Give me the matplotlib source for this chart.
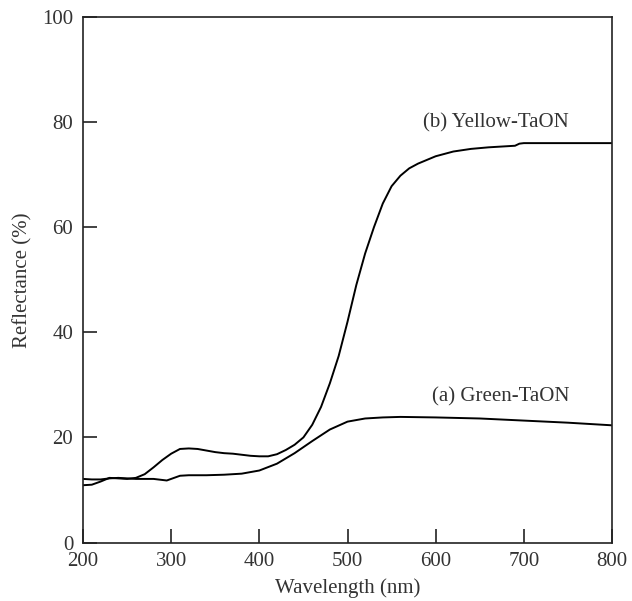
import matplotlib
matplotlib.use("Agg")
import matplotlib.pyplot as plt

plt.rcParams['font.family'] = ['Liberation Serif', 'DejaVu Serif']

# Yellow-TaON (b)
wl_b = [200, 210, 220, 230, 240, 250, 260, 270, 280, 290, 300, 310, 320, 330, 340,
        350, 360, 370, 380, 390, 400, 410, 420, 430, 440, 450, 460, 470, 480, 490,
        500, 510, 520, 530, 540, 550, 560, 570, 580, 590, 600, 620, 640, 660, 680,
        690, 695, 700, 750, 800]
refl_b = [10.9, 11.0, 11.6, 12.3, 12.2, 12.1, 12.3, 13.0, 14.3, 15.7, 16.9, 17.8, 17.9, 17.8, 17.5,
          17.2, 17.0, 16.9, 16.7, 16.5, 16.4, 16.4, 16.8, 17.6, 18.6, 20.0, 22.4, 25.8, 30.3, 35.5,
          42.0, 49.0, 55.0, 60.0, 64.5, 67.8, 69.8, 71.2, 72.1, 72.8, 73.5, 74.4, 74.9, 75.2, 75.4,
          75.5, 75.9, 76.0, 76.0, 76.0]

# Green-TaON (a)
wl_a = [200, 210, 220, 230, 240, 250, 260, 270, 280, 290, 295, 300, 310, 320, 340,
        360, 380, 400, 420, 440, 460, 480, 500, 520, 540, 560, 600, 650, 700, 750, 800]
refl_a = [12.1, 12.0, 12.0, 12.2, 12.3, 12.2, 12.1, 12.1, 12.1, 11.9, 11.8, 12.1, 12.7, 12.8, 12.8,
          12.9, 13.1, 13.7, 15.0, 17.0, 19.3, 21.5, 23.0, 23.6, 23.8, 23.9, 23.8, 23.6, 23.2, 22.8, 22.3]

xticks = [200, 300, 400, 500, 600, 700, 800]
yticks = [0, 20, 40, 60, 80, 100]

fig = plt.figure(figsize=(6.32, 6.01), dpi=100)
ax = fig.add_axes([83/632, 1-542.5/601, (612-83)/632, (542.5-17)/601])

ax.plot(wl_b, refl_b, color='black', lw=1.4)
ax.plot(wl_a, refl_a, color='black', lw=1.4)

ax.set_xlim(200, 800)
ax.set_ylim(0, 100)
ax.set_xticks(xticks)
ax.set_yticks(yticks)
ax.tick_params(direction='in', length=10, width=1.2, labelsize=15,
               labelcolor='#333333', color='#222222', top=False, right=False)
ax.tick_params(axis='x', pad=7)
ax.tick_params(axis='y', pad=7)
for s in ax.spines.values():
    s.set_linewidth(1.2)
    s.set_color('#222222')

ax.set_xlabel('Wavelength (nm)', fontsize=15, color='#333333', labelpad=5)
ax.set_ylabel('Reflectance (%)', fontsize=15, color='#333333', labelpad=7)

ax.text(668, 79.8, '(b) Yellow-TaON', fontsize=15, color='#333333', ha='center', va='center')
ax.text(674, 27.7, '(a) Green-TaON', fontsize=15, color='#333333', ha='center', va='center')

fig.savefig('out.png', dpi=100)
